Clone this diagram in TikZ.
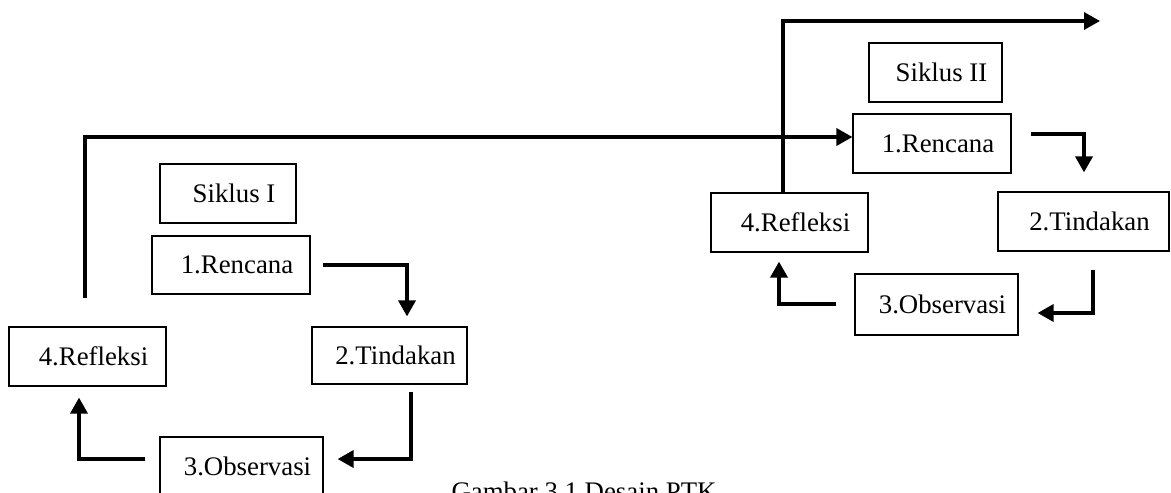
\documentclass[tikz,border=0pt]{standalone}
\usepackage{fontspec}
\setmainfont{Liberation Serif}
\usetikzlibrary{calc,arrows.meta}

\tikzset{
	tahap/.style={draw, line width=0.6pt, inner sep=0pt, execute at begin node=\hspace*{6pt}},
	alur/.style={line width=1.75pt, -{Triangle[length=8pt,width=8.5pt]}}
}

\begin{document}
\begin{tikzpicture}[x=0.5pt,y=-0.5pt,font=\fontsize{13.4}{16}\selectfont]
		\useasboundingbox (0,0) rectangle (1171,492);
		\clip (0,0) rectangle (1171,492);
		% siklus I
		\node[tahap, minimum width=68pt, minimum height=29.5pt] (sik1) at (228,193.5) {Siklus I};
		\node[tahap, minimum width=79pt, minimum height=29pt] (ren1) at (231,265) {1.Rencana};
		\node[tahap, minimum width=77.5pt, minimum height=28.5pt] (tin1) at (389.5,355.5) {2.Tindakan};
		\node[tahap, minimum width=81.5pt, minimum height=29.5pt] (obs1) at (241.5,466.5) {3.Observasi};
		\node[tahap, minimum width=78.5pt, minimum height=29.5pt] (ref1) at (87.5,356.5) {4.Refleksi};
		% siklus II
		\node[tahap, minimum width=66.5pt, minimum height=29.5pt] (sik2) at (935.5,72.5) {Siklus II};
		\node[tahap, minimum width=79pt, minimum height=29.5pt] (ren2) at (932,143.5) {1.Rencana};
		\node[tahap, minimum width=85.5pt, minimum height=29.5pt] (tin2) at (1083.5,221.5) {2.Tindakan};
		\node[tahap, minimum width=81.5pt, minimum height=30.5pt] (obs2) at (936.5,304.5) {3.Observasi};
		\node[tahap, minimum width=78.5pt, minimum height=29.5pt] (ref2) at (789.5,222.5) {4.Refleksi};
		\coordinate (lanjut) at (1100,21);
		% alur siklus I
		\draw[alur] ($(ren1.east)+(12,0)$) -| ($(tin1.north)+(17.5,-10)$);
		\draw[alur] ($(tin1.south)+(21.5,7)$) |- ($(obs1.east)+(14,-7.5)$);
		\draw[alur] ($(obs1.west)+(-14,-7.5)$) -| ($(ref1.south)+(-8.5,11)$);
		\draw[alur] ($(ref1.north)+(-2.5,-28)$) |- ($(ren2.west)+(0,-6.5)$);
		% alur siklus II
		\draw[alur] ($(ren2.east)+(19,-9.5)$) -| ($(tin2.north)+(0.5,-19)$);
		\draw[alur] ($(tin2.south)+(9.5,18)$) |- ($(obs2.east)+(19,8.5)$);
		\draw[alur] ($(obs2.west)+(-18,-0.5)$) -| ($(ref2.south)+(-10.5,9)$);
		\draw[alur] ($(ref2.north)+(-6.5,0)$) |- (lanjut);
		\node[anchor=base] (judul) at (584,500) {Gambar 3.1 Desain PTK};
\end{tikzpicture}
\end{document}
